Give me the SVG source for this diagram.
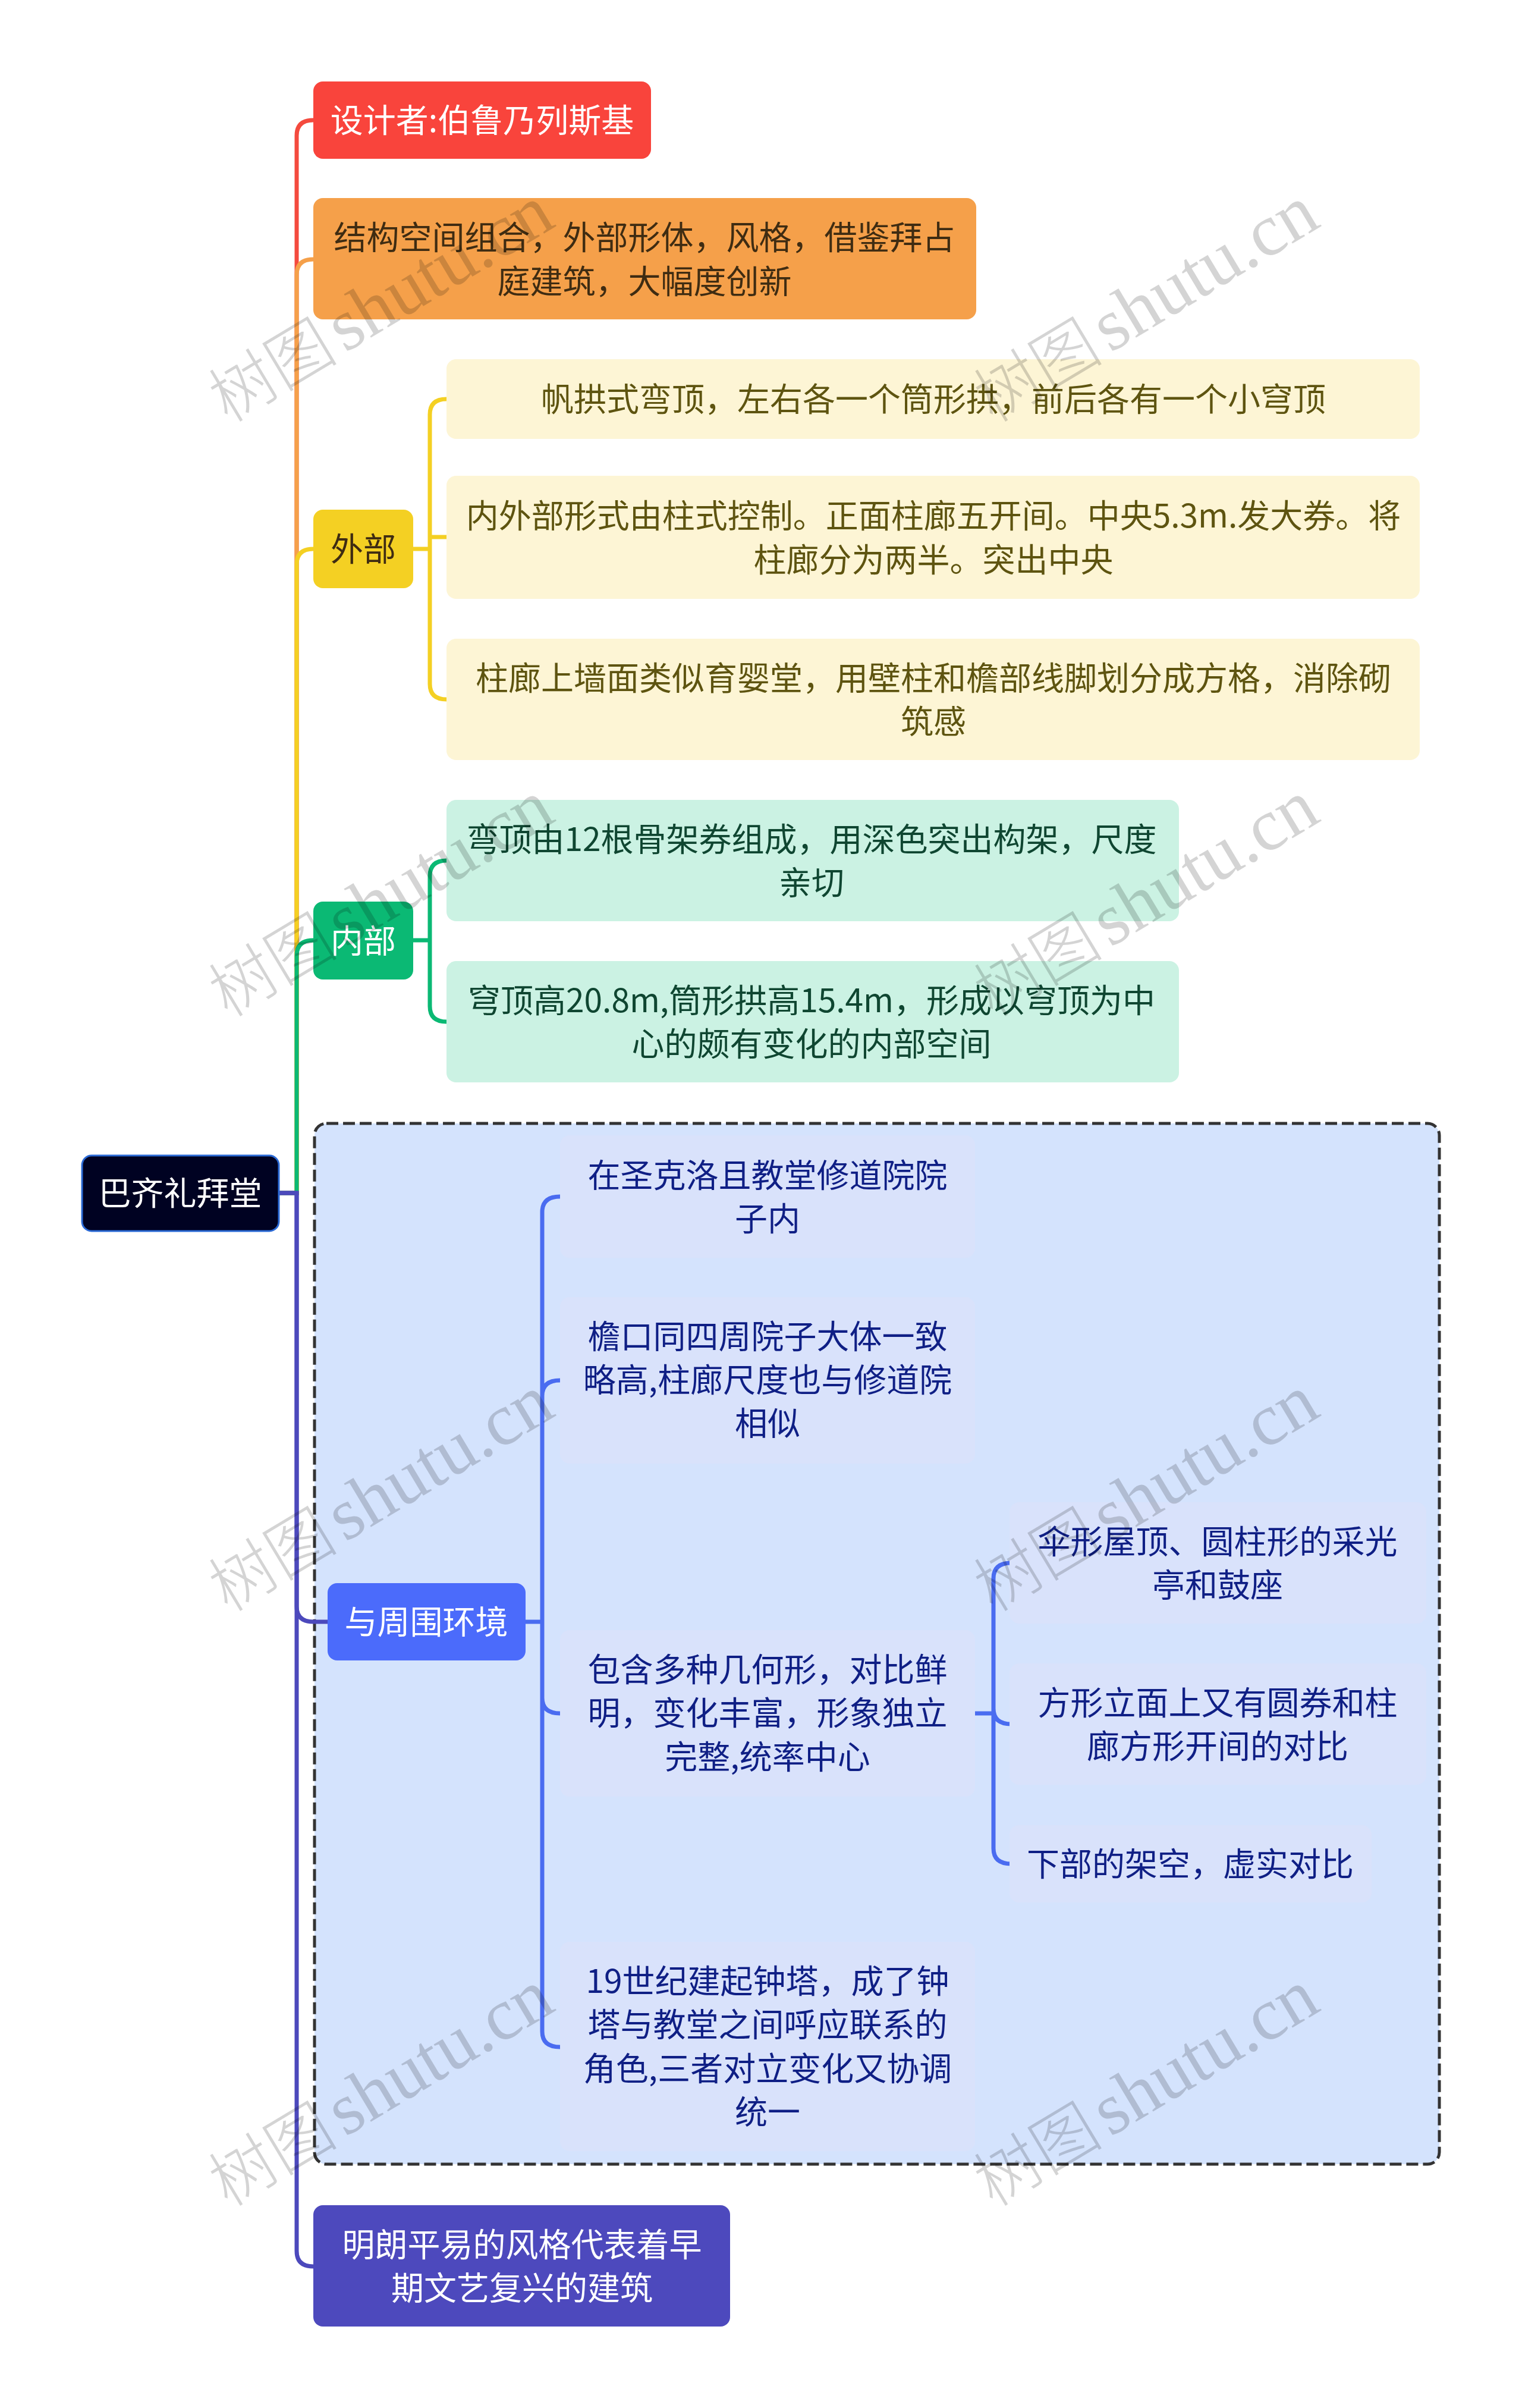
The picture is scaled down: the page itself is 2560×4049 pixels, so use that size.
<svg xmlns="http://www.w3.org/2000/svg" width="2560" height="4049" viewBox="0 0 2560 4049">
<style>
text{font-family:"Noto Sans CJK SC","Noto Sans",sans-serif;font-size:55px;text-anchor:middle}
.c{fill:none;stroke-width:7}
.w{fill:#fff}
.o{fill:#3f2c12}
.y{fill:#5e5410}
.g{fill:#0f4631}
.b{fill:#0f1f85}
.lt{fill:#d9e2fb}
.wm{font-family:"Liberation Serif","Noto Sans CJK SC",serif;font-size:124px;fill:#000;fill-opacity:.17}
.wc{font-family:"Noto Sans CJK SC",serif;font-size:109px;font-weight:300}
</style>
<rect width="2560" height="4049" fill="#fff"/>
<g id="frame"><rect x="529" y="1889" width="1892" height="1750" rx="20" fill="#d4e3fd" stroke="#333" stroke-width="5" stroke-dasharray="20 8"/></g>
<g id="connectors">
<path class="c" stroke="#f44a3e" d="M469 2006H499V228Q499 202 527 202"/>
<path class="c" stroke="#f5a04a" d="M469 2006H499V462Q499 436 527 436"/>
<path class="c" stroke="#f4d023" d="M469 2006H499V949Q499 923 527 923"/>
<path class="c" stroke="#0bb974" d="M469 2006H499V1607Q499 1581 527 1581"/>
<path class="c" stroke="#4c49bc" d="M469 2006H499V2701Q499 2727 527 2727H551"/>
<path class="c" stroke="#4c49bc" d="M469 2006H499V3785Q499 3811 527 3811"/>
<path class="c" stroke="#f4d023" d="M695 923H723M751 671Q723 671 723 697V1150Q723 1176 751 1176M723 903Q723 903 751 903"/>
<path class="c" stroke="#0bb974" d="M695 1581H723M751 1447Q723 1447 723 1473V1692Q723 1718 751 1718"/>
<path class="c" stroke="#4a6cf0" d="M884 2727H912M942 2012Q912 2012 912 2038V3416Q912 3442 942 3442M942 2321Q912 2321 912 2347M912 2855Q912 2881 942 2881"/>
<path class="c" stroke="#4a6cf0" d="M1640 2881H1671M1701 2628Q1671 2628 1671 2654V3108Q1671 3134 1701 3134M1671 2873Q1671 2899 1701 2899"/>
</g>
<g id="root"><rect x="138" y="1943" width="331" height="127" rx="16" fill="#000222" stroke="#2b6ad6" stroke-width="3"/><text class="w" x="303" y="2026">巴齐礼拜堂</text></g>
<g id="n1"><rect x="527" y="137" width="568" height="130" rx="16" fill="#f9443c"/><text class="w" x="811" y="222">设计者:伯鲁乃列斯基</text></g>
<g id="n2"><rect x="527" y="333" width="1115" height="204" rx="16" fill="#f5a04a"/><text class="o" x="1084" y="419">结构空间组合，外部形体，风格，借鉴拜占</text><text class="o" x="1084" y="493">庭建筑，大幅度创新</text></g>
<g id="n3"><rect x="527" y="857" width="168" height="132" rx="16" fill="#f4d023"/><text class="o" x="611" y="943">外部</text></g>
<g id="n31"><rect x="751" y="604" width="1637" height="134" rx="16" fill="#fdf5d5"/><text class="y" x="1570" y="691">帆拱式弯顶，左右各一个筒形拱，前后各有一个小穹顶</text></g>
<g id="n32"><rect x="751" y="800" width="1637" height="207" rx="16" fill="#fdf5d5"/><text class="y" x="1570" y="887">内外部形式由柱式控制。正面柱廊五开间。中央5.3m.发大券。将</text><text class="y" x="1570" y="961">柱廊分为两半。突出中央</text></g>
<g id="n33"><rect x="751" y="1074" width="1637" height="204" rx="16" fill="#fdf5d5"/><text class="y" x="1570" y="1160">柱廊上墙面类似育婴堂，用壁柱和檐部线脚划分成方格，消除砌</text><text class="y" x="1570" y="1233">筑感</text></g>
<g id="n4"><rect x="527" y="1516" width="168" height="131" rx="16" fill="#0bb974"/><text class="w" x="611" y="1602">内部</text></g>
<g id="n41"><rect x="751" y="1345" width="1232" height="204" rx="16" fill="#cbf2e3"/><text class="g" x="1365" y="1431">弯顶由12根骨架券组成，用深色突出构架，尺度</text><text class="g" x="1365" y="1504">亲切</text></g>
<g id="n42"><rect x="751" y="1616" width="1232" height="204" rx="16" fill="#cbf2e3"/><text class="g" x="1365" y="1702">穹顶高20.8m,筒形拱高15.4m，形成以穹顶为中</text><text class="g" x="1365" y="1775">心的颇有变化的内部空间</text></g>
<g id="n5"><rect x="551" y="2662" width="333" height="130" rx="16" fill="#4b6bfb"/><text class="w" x="717" y="2747">与周围环境</text></g>
<g id="n51"><rect class="lt" x="942" y="1909" width="698" height="206" rx="16"/><text class="b" x="1291" y="1996">在圣克洛且教堂修道院院</text><text class="b" x="1291" y="2069">子内</text></g>
<g id="n52"><rect class="lt" x="942" y="2181" width="698" height="280" rx="16"/><text class="b" x="1291" y="2267">檐口同四周院子大体一致</text><text class="b" x="1291" y="2340">略高,柱廊尺度也与修道院</text><text class="b" x="1291" y="2413">相似</text></g>
<g id="n53"><rect class="lt" x="942" y="2741" width="698" height="280" rx="16"/><text class="b" x="1291" y="2827">包含多种几何形，对比鲜</text><text class="b" x="1291" y="2900">明，变化丰富，形象独立</text><text class="b" x="1291" y="2974">完整,统率中心</text></g>
<g id="n54"><rect class="lt" x="942" y="3265" width="698" height="352" rx="16"/><text class="b" x="1291" y="3351">19世纪建起钟塔，成了钟</text><text class="b" x="1291" y="3424">塔与教堂之间呼应联系的</text><text class="b" x="1291" y="3498">角色,三者对立变化又协调</text><text class="b" x="1291" y="3571">统一</text></g>
<g id="n531"><rect class="lt" x="1698" y="2526" width="701" height="204" rx="16"/><text class="b" x="2048" y="2612">伞形屋顶、圆柱形的采光</text><text class="b" x="2048" y="2685">亭和鼓座</text></g>
<g id="n532"><rect class="lt" x="1698" y="2797" width="701" height="204" rx="16"/><text class="b" x="2048" y="2883">方形立面上又有圆券和柱</text><text class="b" x="2048" y="2956">廊方形开间的对比</text></g>
<g id="n533"><rect class="lt" x="1698" y="3069" width="609" height="130" rx="16"/><text class="b" x="2002" y="3154">下部的架空，虚实对比</text></g>
<g id="n6"><rect x="527" y="3708" width="701" height="204" rx="16" fill="#4d49bd"/><text class="w" x="878" y="3794">明朗平易的风格代表着早</text><text class="w" x="878" y="3867">期文艺复兴的建筑</text></g>
<g id="watermark">
<text class="wm" transform="translate(645 520) rotate(-31)" y="30"><tspan class="wc">树图</tspan><tspan dx="12">shutu.cn</tspan></text>
<text class="wm" transform="translate(1932 520) rotate(-31)" y="30"><tspan class="wc">树图</tspan><tspan dx="12">shutu.cn</tspan></text>
<text class="wm" transform="translate(645 1520) rotate(-31)" y="30"><tspan class="wc">树图</tspan><tspan dx="12">shutu.cn</tspan></text>
<text class="wm" transform="translate(1932 1520) rotate(-31)" y="30"><tspan class="wc">树图</tspan><tspan dx="12">shutu.cn</tspan></text>
<text class="wm" transform="translate(645 2520) rotate(-31)" y="30"><tspan class="wc">树图</tspan><tspan dx="12">shutu.cn</tspan></text>
<text class="wm" transform="translate(1932 2520) rotate(-31)" y="30"><tspan class="wc">树图</tspan><tspan dx="12">shutu.cn</tspan></text>
<text class="wm" transform="translate(645 3520) rotate(-31)" y="30"><tspan class="wc">树图</tspan><tspan dx="12">shutu.cn</tspan></text>
<text class="wm" transform="translate(1932 3520) rotate(-31)" y="30"><tspan class="wc">树图</tspan><tspan dx="12">shutu.cn</tspan></text>
</g>
</svg>
